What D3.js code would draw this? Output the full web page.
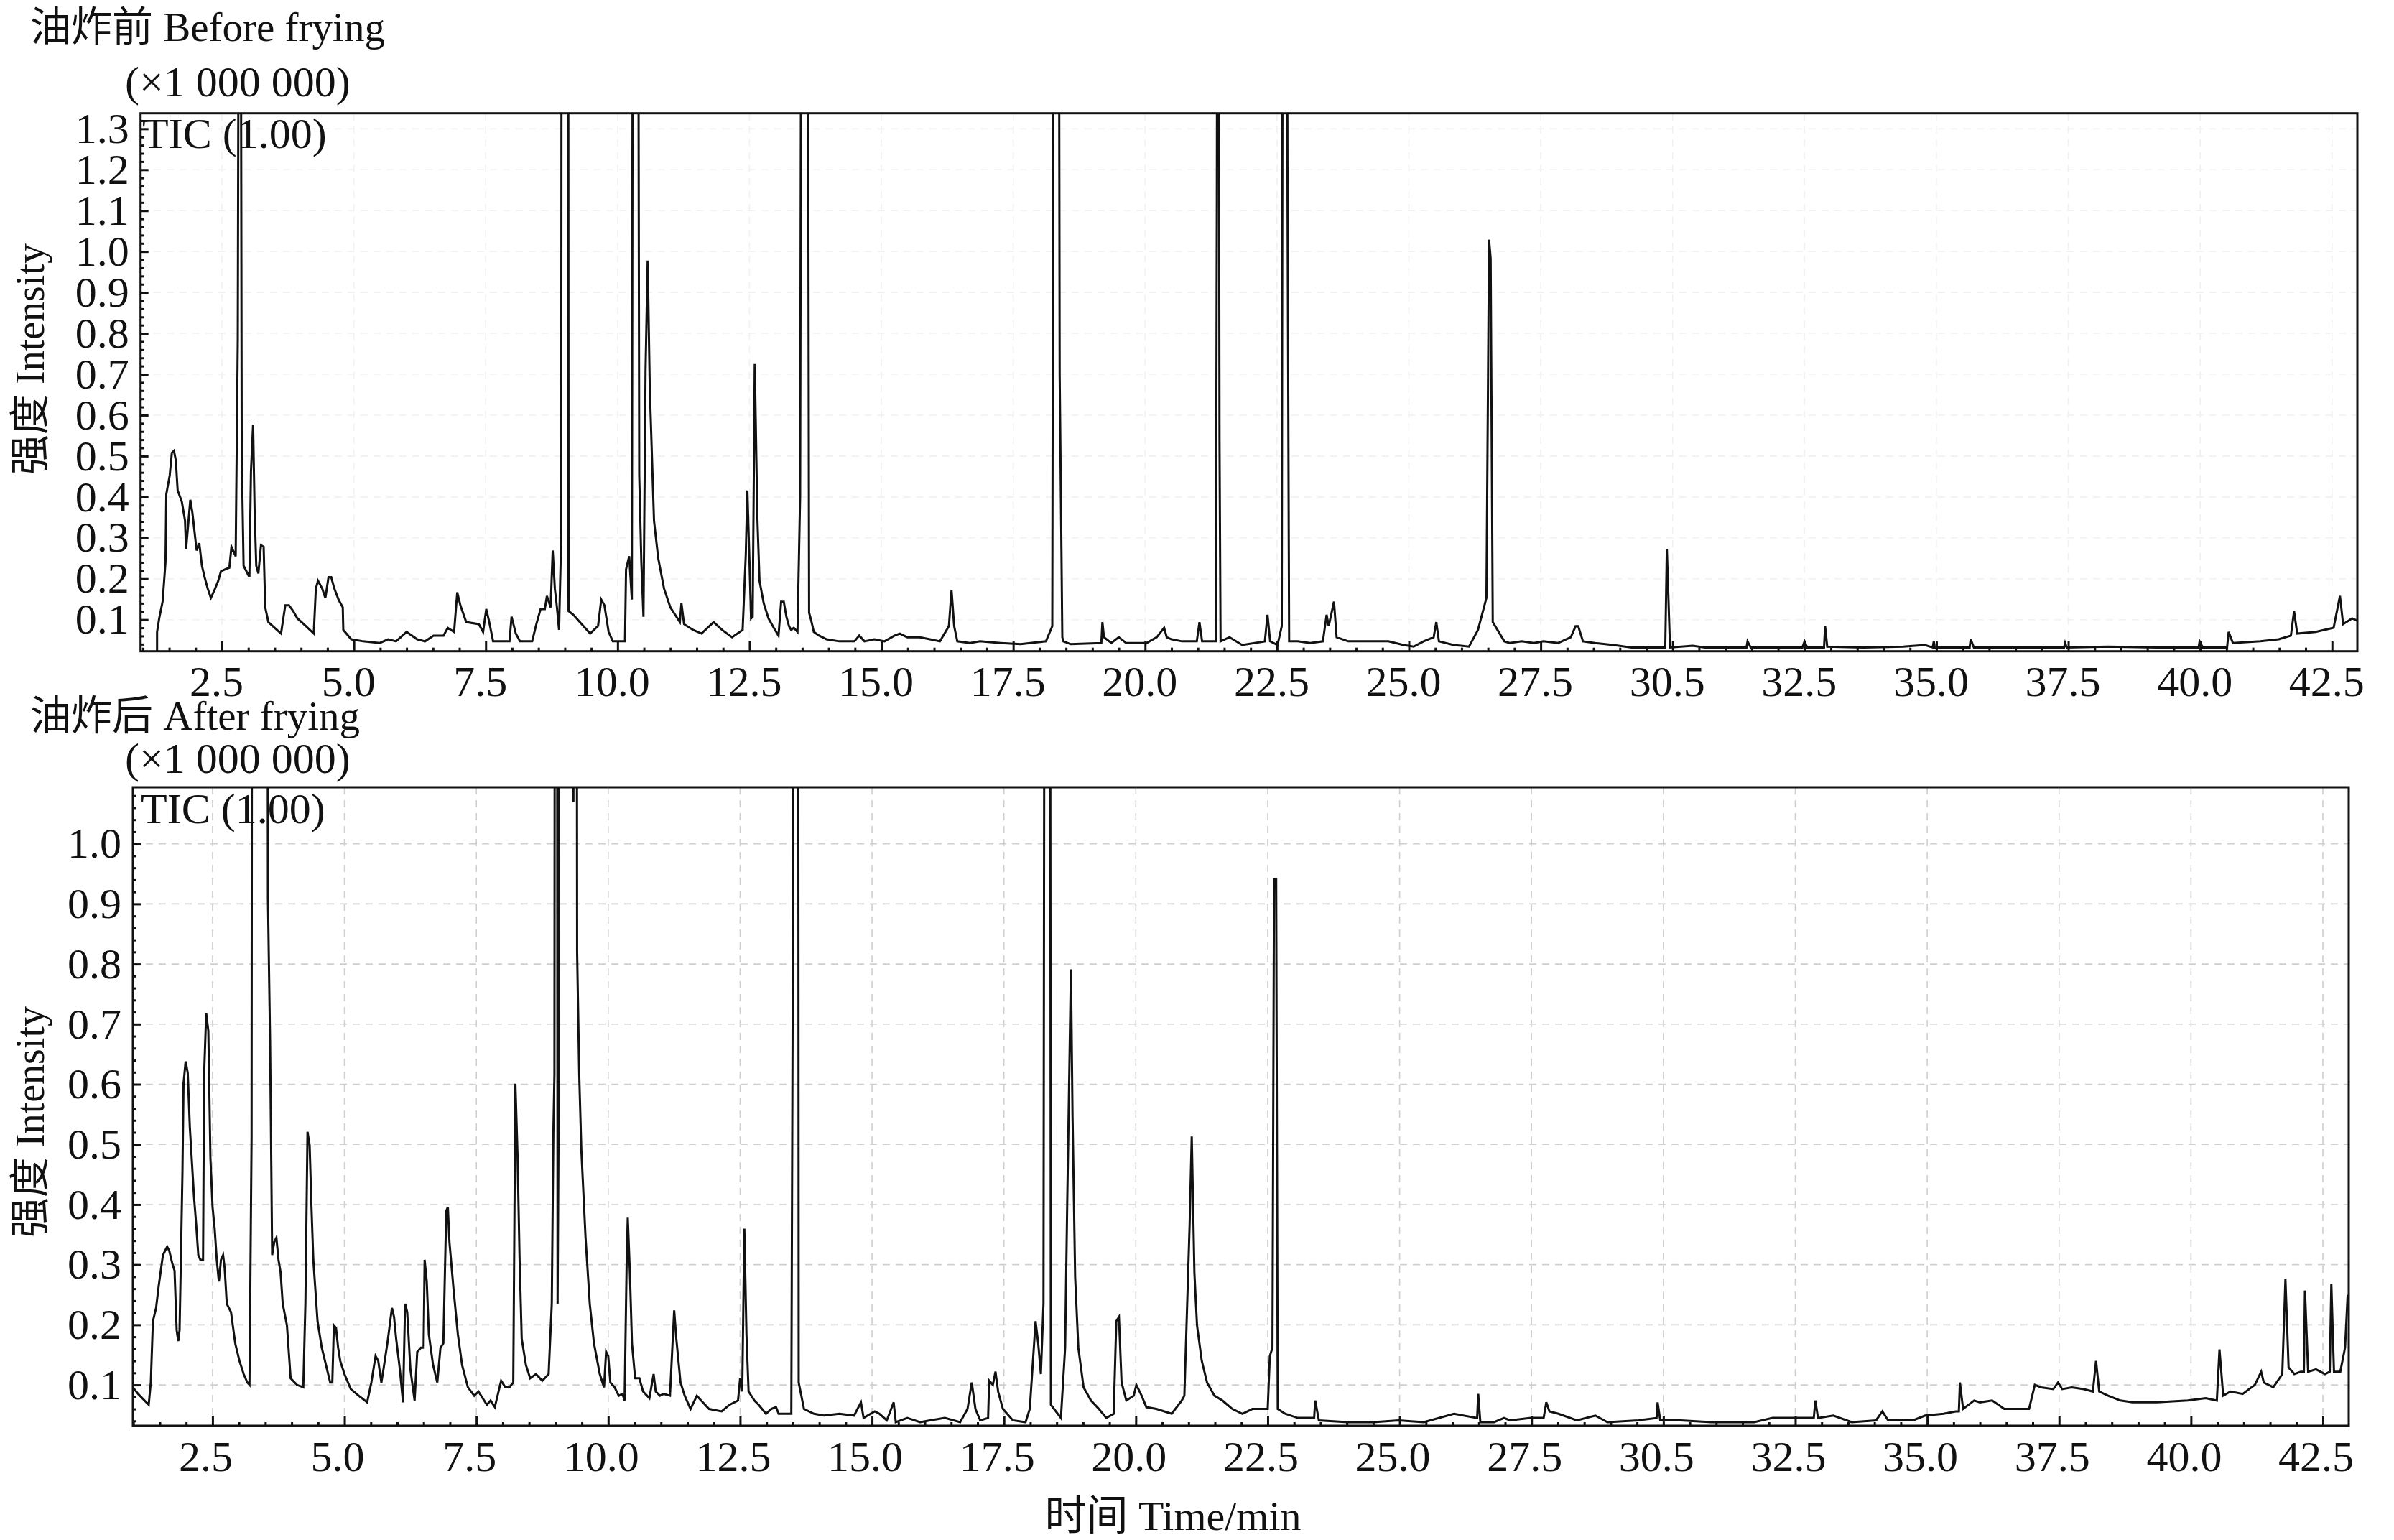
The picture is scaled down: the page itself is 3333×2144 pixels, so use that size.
<!DOCTYPE html>
<html>
<head>
<meta charset="utf-8">
<script src="https://cdn.jsdelivr.net/npm/d3@7"></script>
<style>
  html, body { margin: 0; padding: 0; background: #fff; }
</style>
</head>
<body>
<div id="chart"></div>
<script>
// retention time (min), TIC intensity (x1 000 000)
// 3 = peak running off the top of the frame (clipped)
const beforeFrying = [
  [1.27,0.023],[1.27,0.07],[1.31,0.103],[1.375,0.144],[1.43,0.241],[1.445,0.407],[1.51,0.453],[1.55,0.508],[1.59,0.513],
  [1.625,0.49],[1.66,0.416],[1.74,0.388],[1.80,0.342],[1.82,0.273],[1.86,0.333],[1.90,0.393],[1.94,0.361],[1.98,0.315],
  [2.02,0.269],[2.07,0.287],[2.12,0.232],[2.17,0.204],[2.23,0.176],[2.29,0.153],[2.37,0.176],[2.43,0.195],[2.48,0.218],
  [2.56,0.223],[2.64,0.227],[2.68,0.278],[2.76,0.255],[2.80,0.785],[2.84,3],[2.875,0.499],[2.91,0.232],[3.02,0.204],
  [3.05,0.462],[3.09,0.577],[3.12,0.361],[3.15,0.232],[3.19,0.213],[3.24,0.282],[3.29,0.278],[3.32,0.13],[3.38,0.094],
  [3.50,0.08],[3.62,0.066],[3.70,0.135],[3.77,0.135],[3.85,0.121],[3.93,0.103],[4.05,0.089],[4.24,0.066],[4.28,0.176],
  [4.32,0.195],[4.40,0.176],[4.46,0.153],[4.52,0.204],[4.57,0.204],[4.63,0.176],[4.71,0.149],[4.79,0.13],[4.80,0.075],
  [4.95,0.052],[5.18,0.047],[5.49,0.043],[5.65,0.052],[5.80,0.047],[6.00,0.07],[6.20,0.052],[6.35,0.047],[6.51,0.061],
  [6.70,0.061],[6.78,0.08],[6.90,0.07],[6.96,0.167],[7.02,0.135],[7.13,0.094],[7.37,0.089],[7.45,0.07],[7.51,0.126],
  [7.56,0.098],[7.64,0.047],[7.95,0.047],[7.99,0.107],[8.07,0.066],[8.15,0.047],[8.38,0.047],[8.46,0.089],[8.54,0.126],
  [8.62,0.126],[8.66,0.158],[8.73,0.13],[8.77,0.269],[8.81,0.176],[8.85,0.13],[8.89,0.075],[8.93,0.296],[8.945,3],
  [9.06,3],[9.07,0.121],[9.16,0.112],[9.32,0.089],[9.48,0.066],[9.63,0.085],[9.69,0.149],[9.75,0.135],[9.83,0.07],
  [9.91,0.047],[10.14,0.047],[10.16,0.223],[10.22,0.255],[10.27,0.149],[10.30,3],[10.375,3],[10.41,0.453],[10.45,0.241],
  [10.49,0.107],[10.53,0.711],[10.57,0.978],[10.61,0.665],[10.69,0.342],[10.77,0.25],[10.88,0.176],[11.0,0.13],
  [11.18,0.094],[11.21,0.14],[11.26,0.089],[11.43,0.075],[11.59,0.066],[11.82,0.094],[11.98,0.075],[12.17,0.057],
  [12.37,0.075],[12.43,0.259],[12.46,0.416],[12.50,0.241],[12.53,0.103],[12.56,0.107],[12.60,0.725],[12.65,0.347],
  [12.69,0.195],[12.77,0.14],[12.86,0.103],[12.96,0.08],[13.05,0.061],[13.10,0.144],[13.15,0.144],[13.20,0.107],
  [13.25,0.084],[13.29,0.075],[13.34,0.08],[13.41,0.07],[13.46,0.402],[13.50,3],[13.59,3],[13.63,0.117],[13.67,0.098],
  [13.72,0.07],[13.82,0.061],[13.96,0.052],[14.20,0.047],[14.49,0.047],[14.58,0.061],[14.68,0.047],[14.87,0.052],
  [15.06,0.047],[15.25,0.061],[15.35,0.066],[15.49,0.057],[15.73,0.057],[15.92,0.052],[16.11,0.047],[16.28,0.084],
  [16.33,0.172],[16.38,0.084],[16.44,0.047],[16.68,0.043],[16.87,0.047],[17.26,0.043],[17.64,0.04],[18.12,0.047],
  [18.24,0.084],[18.28,3],[18.35,3],[18.38,0.697],[18.43,0.057],[18.45,0.047],[18.59,0.04],[19.17,0.043],[19.19,0.094],
  [19.22,0.057],[19.36,0.043],[19.50,0.057],[19.64,0.043],[20.03,0.043],[20.22,0.057],[20.36,0.08],[20.41,0.057],
  [20.50,0.052],[20.70,0.047],[20.98,0.047],[21.03,0.094],[21.08,0.047],[21.34,0.047],[21.36,1.135],[21.38,3],
  [21.41,0.545],[21.43,0.047],[21.60,0.057],[21.84,0.038],[22.27,0.047],[22.32,0.112],[22.37,0.047],[22.51,0.038],
  [22.59,0.084],[22.62,3],[22.67,3],[22.70,1.126],[22.73,0.047],[22.89,0.047],[23.13,0.043],[23.37,0.047],[23.44,0.112],
  [23.48,0.084],[23.58,0.144],[23.63,0.057],[23.85,0.047],[24.13,0.047],[24.61,0.047],[24.90,0.038],[25.09,0.034],
  [25.28,0.047],[25.47,0.057],[25.52,0.094],[25.57,0.047],[25.85,0.038],[26.14,0.034],[26.31,0.075],[26.47,0.153],
  [26.52,1.029],[26.55,0.983],[26.59,0.094],[26.81,0.047],[26.91,0.043],[27.14,0.047],[27.37,0.043],[27.55,0.047],
  [27.83,0.043],[28.07,0.057],[28.16,0.084],[28.21,0.084],[28.30,0.047],[28.53,0.043],[28.88,0.038],[29.22,0.032],
  [29.86,0.032],[29.89,0.273],[29.95,0.032],[30.38,0.036],[30.61,0.032],[31.40,0.032],[31.42,0.047],[31.48,0.032],
  [32.46,0.032],[32.50,0.047],[32.55,0.032],[32.87,0.032],[32.89,0.084],[32.93,0.034],[33.62,0.032],[34.37,0.034],
  [34.78,0.038],[34.93,0.032],[34.95,0.047],[34.97,0.032],[35.63,0.032],[35.65,0.052],[35.71,0.032],[37.42,0.032],
  [37.44,0.043],[37.47,0.032],[38.25,0.034],[39.18,0.032],[39.97,0.032],[39.99,0.047],[40.05,0.032],[40.51,0.032],
  [40.54,0.07],[40.62,0.043],[41.14,0.047],[41.49,0.052],[41.72,0.061],[41.78,0.121],[41.84,0.066],[42.19,0.07],
  [42.53,0.08],[42.65,0.158],[42.71,0.089],[42.88,0.103],[42.97,0.098]
];

const afterFrying = [
  [0.99,0.096],[1.09,0.085],[1.29,0.067],[1.33,0.104],[1.37,0.206],[1.43,0.228],[1.48,0.265],[1.56,0.316],[1.64,0.33],
  [1.68,0.323],[1.74,0.301],[1.78,0.29],[1.82,0.191],[1.85,0.173],[1.875,0.191],[1.90,0.308],[1.93,0.455],[1.95,0.601],
  [1.99,0.638],[2.03,0.619],[2.07,0.528],[2.11,0.469],[2.15,0.411],[2.19,0.367],[2.23,0.316],[2.27,0.308],[2.32,0.308],
  [2.34,0.616],[2.38,0.718],[2.42,0.689],[2.46,0.477],[2.50,0.396],[2.54,0.36],[2.58,0.308],[2.62,0.272],[2.66,0.308],
  [2.70,0.316],[2.73,0.294],[2.77,0.235],[2.85,0.221],[2.93,0.169],[3.01,0.14],[3.09,0.118],[3.16,0.104],[3.20,0.1],
  [3.24,0.513],[3.26,3],[3.52,3],[3.55,0.908],[3.59,0.674],[3.63,0.316],[3.67,0.338],[3.71,0.345],[3.75,0.308],
  [3.79,0.287],[3.83,0.235],[3.91,0.199],[3.98,0.111],[4.10,0.1],[4.22,0.096],[4.26,0.235],[4.30,0.521],[4.34,0.499],
  [4.375,0.396],[4.41,0.308],[4.49,0.206],[4.57,0.162],[4.65,0.133],[4.73,0.104],[4.77,0.104],[4.80,0.199],[4.84,0.195],
  [4.88,0.162],[4.92,0.14],[5.0,0.118],[5.12,0.093],[5.27,0.082],[5.43,0.071],[5.51,0.104],[5.59,0.148],[5.64,0.14],
  [5.70,0.104],[5.74,0.126],[5.82,0.173],[5.90,0.228],[5.94,0.213],[5.98,0.177],[6.05,0.126],[6.11,0.071],[6.15,0.235],
  [6.19,0.221],[6.25,0.126],[6.33,0.074],[6.38,0.155],[6.45,0.162],[6.50,0.162],[6.52,0.308],[6.56,0.272],[6.60,0.184],
  [6.68,0.133],[6.76,0.104],[6.82,0.162],[6.875,0.169],[6.93,0.389],[6.96,0.396],[6.99,0.338],[7.07,0.257],[7.15,0.184],
  [7.23,0.133],[7.34,0.096],[7.46,0.082],[7.54,0.089],[7.62,0.078],[7.70,0.067],[7.77,0.074],[7.85,0.063],[7.97,0.107],
  [8.05,0.096],[8.125,0.096],[8.20,0.104],[8.24,0.601],[8.28,0.484],[8.32,0.308],[8.36,0.177],[8.44,0.133],[8.52,0.111],
  [8.63,0.118],[8.75,0.107],[8.87,0.118],[8.93,0.235],[8.96,0.521],[8.98,0.616],[9.00,3],[9.02,3],[9.04,0.235],
  [9.06,0.55],[9.08,3],[9.33,3],[9.34,1.069],[9.36,3],[9.39,3],[9.41,0.821],[9.45,0.616],[9.49,0.491],[9.57,0.345],
  [9.65,0.235],[9.73,0.169],[9.84,0.118],[9.92,0.096],[9.96,0.155],[10.0,0.148],[10.04,0.104],[10.12,0.096],[10.20,0.082],
  [10.27,0.085],[10.31,0.074],[10.35,0.308],[10.37,0.378],[10.41,0.287],[10.45,0.169],[10.51,0.111],[10.59,0.111],
  [10.66,0.089],[10.78,0.078],[10.86,0.118],[10.90,0.089],[10.98,0.082],[11.05,0.085],[11.17,0.082],[11.25,0.224],
  [11.29,0.177],[11.37,0.104],[11.45,0.082],[11.56,0.06],[11.68,0.082],[11.76,0.074],[11.91,0.06],[12.15,0.056],
  [12.30,0.067],[12.46,0.074],[12.50,0.111],[12.54,0.089],[12.58,0.36],[12.62,0.184],[12.66,0.089],[12.77,0.074],
  [12.85,0.067],[12.99,0.052],[13.09,0.06],[13.18,0.063],[13.23,0.052],[13.47,0.052],[13.50,0.832],[13.54,3],[13.59,3],
  [13.61,0.104],[13.71,0.06],[13.90,0.052],[14.09,0.049],[14.38,0.052],[14.66,0.049],[14.79,0.071],[14.84,0.045],
  [15.05,0.056],[15.14,0.052],[15.28,0.041],[15.41,0.071],[15.45,0.038],[15.67,0.045],[15.91,0.038],[16.10,0.041],
  [16.38,0.045],[16.67,0.038],[16.81,0.06],[16.89,0.104],[16.96,0.06],[17.05,0.041],[17.20,0.045],[17.22,0.107],
  [17.29,0.1],[17.34,0.122],[17.39,0.089],[17.48,0.06],[17.67,0.041],[17.91,0.038],[17.99,0.06],[18.10,0.206],
  [18.15,0.169],[18.20,0.118],[18.25,0.235],[18.29,3],[18.36,3],[18.39,0.067],[18.58,0.045],[18.66,0.162],[18.70,0.404],
  [18.77,0.791],[18.80,0.55],[18.85,0.279],[18.91,0.162],[19.01,0.096],[19.15,0.074],[19.30,0.06],[19.44,0.045],
  [19.58,0.052],[19.63,0.206],[19.68,0.213],[19.73,0.104],[19.82,0.074],[19.96,0.082],[20.01,0.1],[20.11,0.082],
  [20.20,0.063],[20.39,0.06],[20.68,0.052],[20.87,0.074],[20.92,0.082],[20.97,0.224],[21.02,0.367],[21.06,0.513],
  [21.11,0.287],[21.16,0.199],[21.25,0.14],[21.35,0.104],[21.49,0.082],[21.64,0.074],[21.83,0.06],[22.02,0.052],
  [22.21,0.06],[22.40,0.06],[22.50,0.06],[22.54,0.148],[22.59,0.162],[22.62,0.941],[22.66,0.941],[22.69,0.06],
  [22.83,0.052],[23.07,0.045],[23.38,0.045],[23.40,0.074],[23.47,0.041],[24.02,0.038],[24.50,0.038],[24.98,0.041],
  [25.46,0.038],[26.03,0.052],[26.47,0.045],[26.49,0.085],[26.53,0.038],[26.79,0.038],[26.98,0.045],[27.09,0.041],
  [27.49,0.045],[27.73,0.045],[27.78,0.071],[27.84,0.056],[28.01,0.052],[28.36,0.041],[28.71,0.049],[28.94,0.038],
  [29.52,0.041],[29.87,0.045],[29.89,0.071],[29.94,0.041],[30.33,0.041],[30.91,0.038],[31.72,0.038],[32.07,0.045],
  [32.64,0.045],[32.85,0.045],[32.88,0.074],[32.93,0.045],[33.22,0.049],[33.57,0.038],[34.03,0.041],[34.15,0.056],
  [34.26,0.041],[34.73,0.041],[34.96,0.049],[35.31,0.052],[35.54,0.056],[35.60,0.056],[35.62,0.104],[35.68,0.06],
  [35.89,0.074],[36.0,0.071],[36.23,0.074],[36.35,0.067],[36.46,0.06],[36.93,0.06],[37.04,0.1],[37.16,0.096],
  [37.39,0.093],[37.48,0.104],[37.56,0.093],[37.74,0.096],[37.97,0.093],[38.14,0.089],[38.20,0.14],[38.26,0.089],
  [38.43,0.082],[38.66,0.074],[38.89,0.071],[39.36,0.071],[39.94,0.074],[40.28,0.078],[40.49,0.074],[40.54,0.159],
  [40.61,0.082],[40.75,0.089],[40.98,0.085],[41.21,0.1],[41.33,0.122],[41.38,0.104],[41.56,0.096],[41.73,0.118],
  [41.79,0.276],[41.85,0.129],[41.96,0.118],[42.08,0.122],[42.14,0.122],[42.16,0.257],[42.22,0.122],[42.37,0.126],
  [42.54,0.118],[42.63,0.122],[42.66,0.268],[42.71,0.122],[42.83,0.122],[42.92,0.162],[42.97,0.25]
];

const xTicks = [2.5, 5.0, 7.5, 10.0, 12.5, 15.0, 17.5, 20.0, 22.5, 25.0, 27.5, 30.0, 32.5, 35.0, 37.5, 40.0, 42.5];
// labels exactly as printed (the 30 min tick reads "30.5" in the original)
const xTickLabels = ['2.5','5.0','7.5','10.0','12.5','15.0','17.5','20.0','22.5','25.0','27.5','30.5','32.5','35.0','37.5','40.0','42.5'];
const yTicksBefore = [0.1, 0.2, 0.3, 0.4, 0.5, 0.6, 0.7, 0.8, 0.9, 1.0, 1.1, 1.2, 1.3];
const yTicksAfter = [0.1, 0.2, 0.3, 0.4, 0.5, 0.6, 0.7, 0.8, 0.9, 1.0];

const titles = ['油炸前 Before frying', '油炸后 After frying'];
const scaleLabel = '(×1 000 000)';
const ticLabel = 'TIC (1.00)';
const yLabel = '强度 Intensity';
const xLabel = '时间 Time/min';

const W = 3333, H = 2144;
const FONT = "'Liberation Serif','Times New Roman','Noto Sans CJK SC',serif";

const panels = [
  {data: beforeFrying, title: titles[0], yTicks: yTicksBefore,
   xDomain: [0.957, 42.98], yDomain: [0.0227, 1.338],
   left: 195.7, right: 3282, top: 157.7, bottom: 906.7,
   titleY: 57, scaleY: 134, ticX: 198, ticY: 206, yLabelY: 500,
   gridColor: '#f1f1f1', labelShift: -8},
  {data: afterFrying, title: titles[1], yTicks: yTicksAfter,
   xDomain: [0.99, 42.99], yDomain: [0.032, 1.094],
   left: 185, right: 3270, top: 1096, bottom: 1985,
   titleY: 1016, scaleY: 1076, ticX: 196, ticY: 1146, yLabelY: 1562,
   gridColor: '#cfcfcf', labelShift: -10}
];

const svg = d3.select('#chart').append('svg')
  .attr('width', W)
  .attr('height', H)
  .attr('viewBox', [0, 0, W, H])
  .style('font-family', FONT);

svg.append('rect').attr('width', W).attr('height', H).attr('fill', '#fff');

panels.forEach((p, i) => {
  const x = d3.scaleLinear().domain(p.xDomain).range([p.left, p.right]);
  const y = d3.scaleLinear().domain(p.yDomain).range([p.bottom, p.top]);
  const g = svg.append('g').attr('class', 'panel');

  const clipId = 'clip-' + i;
  g.append('clipPath').attr('id', clipId)
    .append('rect')
      .attr('x', p.left).attr('y', p.top)
      .attr('width', p.right - p.left).attr('height', p.bottom - p.top);

  // dashed grid (barely visible in the upper panel)
  const grid = g.append('g').attr('stroke', p.gridColor).attr('stroke-width', 1.6)
    .attr('stroke-dasharray', '10,8');
  grid.selectAll('line.vx').data(xTicks).join('line')
    .attr('class', 'vx')
    .attr('x1', d => x(d)).attr('x2', d => x(d))
    .attr('y1', p.top).attr('y2', p.bottom);
  grid.selectAll('line.hy').data(p.yTicks).join('line')
    .attr('class', 'hy')
    .attr('x1', p.left).attr('x2', p.right)
    .attr('y1', d => y(d)).attr('y2', d => y(d));

  // minor ticks: 0.5 min on x, 0.02 on y
  const xMinor = d3.range(Math.ceil(p.xDomain[0] * 2) / 2, p.xDomain[1], 0.5)
    .filter(v => Math.abs(v / 2.5 - Math.round(v / 2.5)) > 1e-6);
  const yMinor = d3.range(Math.ceil(p.yDomain[0] * 50) / 50, p.yDomain[1], 0.02)
    .filter(v => Math.abs(v * 10 - Math.round(v * 10)) > 1e-6);

  const xAxis = d3.axisBottom(x).tickValues(xTicks)
    .tickFormat((d, k) => xTickLabels[k])
    .tickSizeInner(-14).tickSizeOuter(0).tickPadding(20);
  const xAxisMinor = d3.axisBottom(x).tickValues(xMinor).tickFormat('')
    .tickSizeInner(-5).tickSizeOuter(0);
  const yAxis = d3.axisLeft(y).tickValues(p.yTicks)
    .tickFormat(d3.format('.1f'))
    .tickSizeInner(-11).tickSizeOuter(0).tickPadding(16);
  const yAxisMinor = d3.axisLeft(y).tickValues(yMinor).tickFormat('')
    .tickSizeInner(-5).tickSizeOuter(0);

  [[xAxisMinor, 'x'], [xAxis, 'x'], [yAxisMinor, 'y'], [yAxis, 'y']].forEach(([ax, kind]) => {
    const a = g.append('g')
      .attr('transform', kind === 'x' ? `translate(0,${p.bottom})` : `translate(${p.left},0)`)
      .call(ax);
    a.select('.domain').remove();
    a.selectAll('.tick line').attr('stroke', '#111').attr('stroke-width', 3);
    a.selectAll('.tick text')
      .attr('font-family', FONT)
      .attr('font-size', 60)
      .attr('fill', '#111');
    if (kind === 'x') a.selectAll('.tick text').attr('x', p.labelShift);
    a.attr('font-family', null).attr('font-size', null);
  });

  // the chromatogram
  const line = d3.line().x(d => x(d[0])).y(d => y(d[1]));
  g.append('path')
    .datum(p.data)
    .attr('clip-path', `url(#${clipId})`)
    .attr('fill', 'none')
    .attr('stroke', '#111')
    .attr('stroke-width', 3)
    .attr('stroke-linejoin', 'miter')
    .attr('d', line);

  // frame
  g.append('rect')
    .attr('x', p.left).attr('y', p.top)
    .attr('width', p.right - p.left).attr('height', p.bottom - p.top)
    .attr('fill', 'none').attr('stroke', '#111').attr('stroke-width', 3);

  // texts
  g.append('text').text(p.title)
    .attr('x', 42).attr('y', p.titleY)
    .attr('font-size', 57).attr('fill', '#111');
  g.append('text').text(scaleLabel)
    .attr('x', 174).attr('y', p.scaleY)
    .attr('font-size', 60).attr('fill', '#111');
  g.append('text').text(ticLabel)
    .attr('x', p.ticX).attr('y', p.ticY)
    .attr('font-size', 60).attr('fill', '#111');
  g.append('text').text(yLabel)
    .attr('transform', `translate(42,${p.yLabelY}) rotate(-90)`)
    .attr('text-anchor', 'middle')
    .attr('dominant-baseline', 'central')
    .attr('font-size', 56).attr('fill', '#111');
});

svg.append('text').text(xLabel)
  .attr('x', 1633).attr('y', 2130)
  .attr('text-anchor', 'middle')
  .attr('font-size', 58).attr('fill', '#111');
</script>
</body>
</html>
